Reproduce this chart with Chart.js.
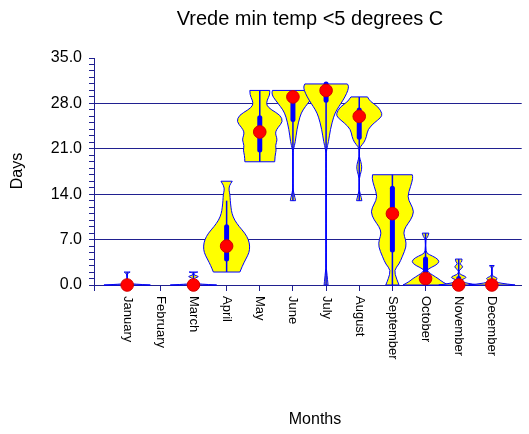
<!DOCTYPE html>
<html lang="en">
<head>
    <meta charset="UTF-8">
    <title>Vrede min temp</title>
    <script src="https://cdn.jsdelivr.net/npm/chart.js@4.4.1/dist/chart.umd.min.js"></script>
    <style>
        body { margin: 0; background: #fff; }
    </style>
</head>
<body>
    <canvas id="violinChart" width="529" height="434"></canvas>

    <script>
        // months on the x axis (position 1..12)
        const months = ['January', 'February', 'March', 'April', 'May', 'June', 'July',
            'August', 'September', 'October', 'November', 'December'];
        const yTickLabels = ['0.0', '7.0', '14.0', '21.0', '28.0', '35.0'];

        // box plot values per month (days)
        const medians     = [0, null, 0, 6, 23.6, 29, 30, 26, 11, 1, 0, 0];
        const boxLow      = [0, null, 0, 4, 20.8, 25.5, 28.5, 22.8, 5.4, 0.3, 0, 0];
        const boxHigh     = [0, null, 0, 9, 25.8, 29, 31, 27, 14.9, 4, 1, 0.5];
        const whiskerLow  = [0, null, 0, 2, 19, 13, 0, 13, 0, 0, 0, 0];
        const whiskerHigh = [2, null, 2, 13, 30, 30, 31, 29, 17, 8, 4, 3];

        // violin density profiles: [days, half width in month units]
        const janDensity = [[0, 0.7], [0.15, 0.15], [0.3, 0.02], [0.6, 0], [1.8, 0], [2, 0.09]];
        const marDensity = [[0, 0.7], [0.15, 0.15], [0.3, 0.03], [0.8, 0], [1.1, 0.05], [1.3, 0.18],
            [1.5, 0.03], [1.8, 0], [1.9, 0.05], [2, 0.13]];
        const aprDensity = [[2, 0.4], [3, 0.48], [4, 0.58], [5, 0.68], [6, 0.7], [7, 0.66], [8, 0.55],
            [9, 0.38], [10, 0.24], [11, 0.16], [12, 0.13], [13, 0.11], [14, 0.1], [14.6, 0.07],
            [15.3, 0.08], [16, 0.17]];
        const mayDensity = [[19, 0.45], [20, 0.46], [20.8, 0.5], [21.5, 0.47], [22.4, 0.53], [23, 0.49],
            [23.6, 0.47], [24.3, 0.55], [25.2, 0.7], [26.2, 0.62], [27, 0.35], [27.7, 0.2],
            [28.5, 0.22], [29.3, 0.3], [30, 0.3]];
        const junDensity = [[13, 0.08], [13.5, 0.06], [14.3, 0.02], [15, 0], [20.5, 0], [21, 0.02],
            [22, 0.07], [24, 0.12], [26, 0.21], [27, 0.3], [28, 0.45], [29, 0.6], [29.6, 0.64], [30, 0.62]];
        const julDensity = [[0, 0.06], [1, 0.04], [2, 0.02], [3, 0], [20, 0], [21, 0.02], [22, 0.07],
            [24, 0.13], [26, 0.23], [27, 0.32], [28, 0.45], [29, 0.57], [30, 0.66], [30.7, 0.68], [31, 0.64]];
        const augDensity = [[13, 0.08], [13.5, 0.06], [14.4, 0.01], [15, 0], [16.5, 0], [17.5, 0.06],
            [18.2, 0.08], [19, 0.05], [19.8, 0], [20.8, 0], [21.3, 0.03], [22, 0.15], [22.9, 0.22],
            [24, 0.26], [25, 0.45], [25.8, 0.65], [26.4, 0.7], [27.5, 0.57], [28.3, 0.33], [29, 0.25]];
        const sepDensity = [[0, 0.2], [1, 0.12], [2.3, 0.05], [3.2, 0.2], [4.4, 0.3], [5.9, 0.42],
            [7, 0.4], [8, 0.33], [9, 0.4], [10, 0.55], [11.3, 0.66], [12.5, 0.55], [13.6, 0.45],
            [15.2, 0.55], [16.5, 0.62], [17, 0.6]];
        const octDensity = [[0, 0.68], [0.5, 0.5], [1, 0.38], [1.5, 0.22], [2, 0.08], [2.4, 0.04],
            [3, 0.3], [3.6, 0.43], [4.2, 0.32], [4.7, 0.1], [5.1, 0], [7.1, 0], [7.3, 0.06], [8, 0.1]];
        const novDensity = [[0, 0.6], [0.3, 0.2], [0.6, 0.05], [0.8, 0.08], [1.2, 0.27], [1.6, 0.05],
            [2, 0], [2.3, 0.02], [2.8, 0.15], [3.3, 0.02], [3.5, 0.09], [4, 0.1]];
        const decDensity = [[0, 0.7], [0.3, 0.2], [0.6, 0.05], [1, 0.2], [1.3, 0.05], [1.6, 0],
            [2.6, 0], [2.8, 0.05], [3, 0.07]];

        const violins = [janDensity, null, marDensity, aprDensity, mayDensity, junDensity,
            julDensity, augDensity, sepDensity, octDensity, novDensity, decDensity];

        const navy = '#202090';
        const font = '"Liberation Sans", Arial, sans-serif';

        // smooth-ish polyline through points (ends kept exact)
        function smoothSide(ctx, pts, first) {
            if (first) ctx.moveTo(pts[0][0], pts[0][1]);
            else ctx.lineTo(pts[0][0], pts[0][1]);
            for (var i = 1; i < pts.length - 1; i++) {
                var mx = (pts[i][0] + pts[i + 1][0]) / 2;
                var my = (pts[i][1] + pts[i + 1][1]) / 2;
                ctx.quadraticCurveTo(pts[i][0], pts[i][1], mx, my);
            }
            var last = pts[pts.length - 1];
            ctx.lineTo(last[0], last[1]);
        }

        const violinPlugin = {
            id: 'violins',
            beforeDatasetsDraw(chart) {
                var ctx = chart.ctx;
                var xs = chart.scales.x, ys = chart.scales.y;
                ctx.save();
                months.forEach(function (m, i) {
                    var prof = violins[i];
                    if (!prof) return;
                    var c = i + 1;
                    var right = prof.map(function (p) { return [xs.getPixelForValue(c + p[1]), ys.getPixelForValue(p[0])]; });
                    var left = prof.slice().reverse().map(function (p) { return [xs.getPixelForValue(c - p[1]), ys.getPixelForValue(p[0])]; });
                    ctx.beginPath();
                    smoothSide(ctx, right, true);
                    smoothSide(ctx, left, false);
                    ctx.closePath();
                    ctx.fillStyle = '#ffff00';
                    ctx.fill();
                    ctx.lineWidth = 1;
                    ctx.strokeStyle = '#0000ff';
                    ctx.stroke();

                    var px = xs.getPixelForValue(c);
                    // whisker
                    ctx.beginPath();
                    ctx.moveTo(px, ys.getPixelForValue(whiskerLow[i]));
                    ctx.lineTo(px, ys.getPixelForValue(whiskerHigh[i]));
                    ctx.lineWidth = 1.5;
                    ctx.strokeStyle = '#0000ff';
                    ctx.stroke();
                    // box
                    if (boxHigh[i] > boxLow[i]) {
                        ctx.beginPath();
                        ctx.moveTo(px, ys.getPixelForValue(boxLow[i]));
                        ctx.lineTo(px, ys.getPixelForValue(boxHigh[i]));
                        ctx.lineWidth = 5;
                        ctx.lineCap = 'round';
                        ctx.stroke();
                        ctx.lineCap = 'butt';
                    }
                });
                ctx.restore();
            }
        };

        const textPlugin = {
            id: 'texts',
            afterDraw(chart) {
                var ctx = chart.ctx;
                var xs = chart.scales.x;
                ctx.save();
                ctx.fillStyle = '#000';
                // title
                ctx.font = '20px ' + font;
                ctx.textAlign = 'center';
                ctx.textBaseline = 'alphabetic';
                ctx.fillText('Vrede min temp <5 degrees C', 310, 25);
                // axis titles
                ctx.font = '16px ' + font;
                ctx.textBaseline = 'middle';
                ctx.fillText('Months', 315, 420);
                ctx.save();
                ctx.translate(18, 171);
                ctx.rotate(-Math.PI / 2);
                ctx.fillText('Days', 0, 0);
                ctx.restore();
                // month labels, rotated clockwise
                ctx.font = '13px ' + font;
                ctx.textAlign = 'left';
                months.forEach(function (m, i) {
                    ctx.save();
                    ctx.translate(xs.getPixelForValue(i + 1), 296);
                    ctx.rotate(Math.PI / 2);
                    ctx.fillText(m, 0, 0);
                    ctx.restore();
                });
                ctx.restore();
            }
        };

        var medianPoints = [];
        medians.forEach(function (v, i) {
            if (v !== null) medianPoints.push({ x: i + 1, y: v });
        });

        new Chart(document.querySelector('#violinChart'), {
            type: 'scatter',
            data: {
                datasets: [{
                    data: medianPoints,
                    pointRadius: 6.3,
                    pointHoverRadius: 6.3,
                    backgroundColor: '#ff0000',
                    borderColor: '#d00000',
                    borderWidth: 1,
                    clip: false
                }]
            },
            options: {
                responsive: false,
                animation: false,
                devicePixelRatio: 1,
                events: [],
                layout: { padding: { top: 58, right: 2, left: 0, bottom: 0 } },
                plugins: {
                    legend: { display: false },
                    tooltip: { enabled: false },
                    title: { display: false }
                },
                scales: {
                    x: {
                        type: 'linear',
                        min: 0,
                        max: 12.9,
                        offset: false,
                        afterFit: function (s) { s.height = 149; },
                        border: { color: navy, width: 1 },
                        grid: { drawOnChartArea: false, tickLength: 6, color: navy, tickColor: navy },
                        ticks: { display: false, stepSize: 1, includeBounds: false }
                    },
                    y: {
                        min: 0,
                        max: 35,
                        afterFit: function (s) { s.width = 94; },
                        border: { color: navy, width: 1 },
                        grid: {
                            tickLength: 5,
                            tickColor: navy,
                            color: function (c) {
                                var v = c.tick ? c.tick.value : 0;
                                return (v % 7 === 0 && v > 0 && v < 35) ? navy : 'rgba(0,0,0,0)';
                            }
                        },
                        ticks: {
                            stepSize: 1,
                            autoSkip: false,
                            padding: 7,
                            color: '#000',
                            font: { family: font, size: 16 },
                            callback: function (v) {
                                return v % 7 === 0 ? yTickLabels[v / 7] : '';
                            }
                        }
                    }
                }
            },
            plugins: [violinPlugin, textPlugin]
        });
    </script>
</body>
</html>
